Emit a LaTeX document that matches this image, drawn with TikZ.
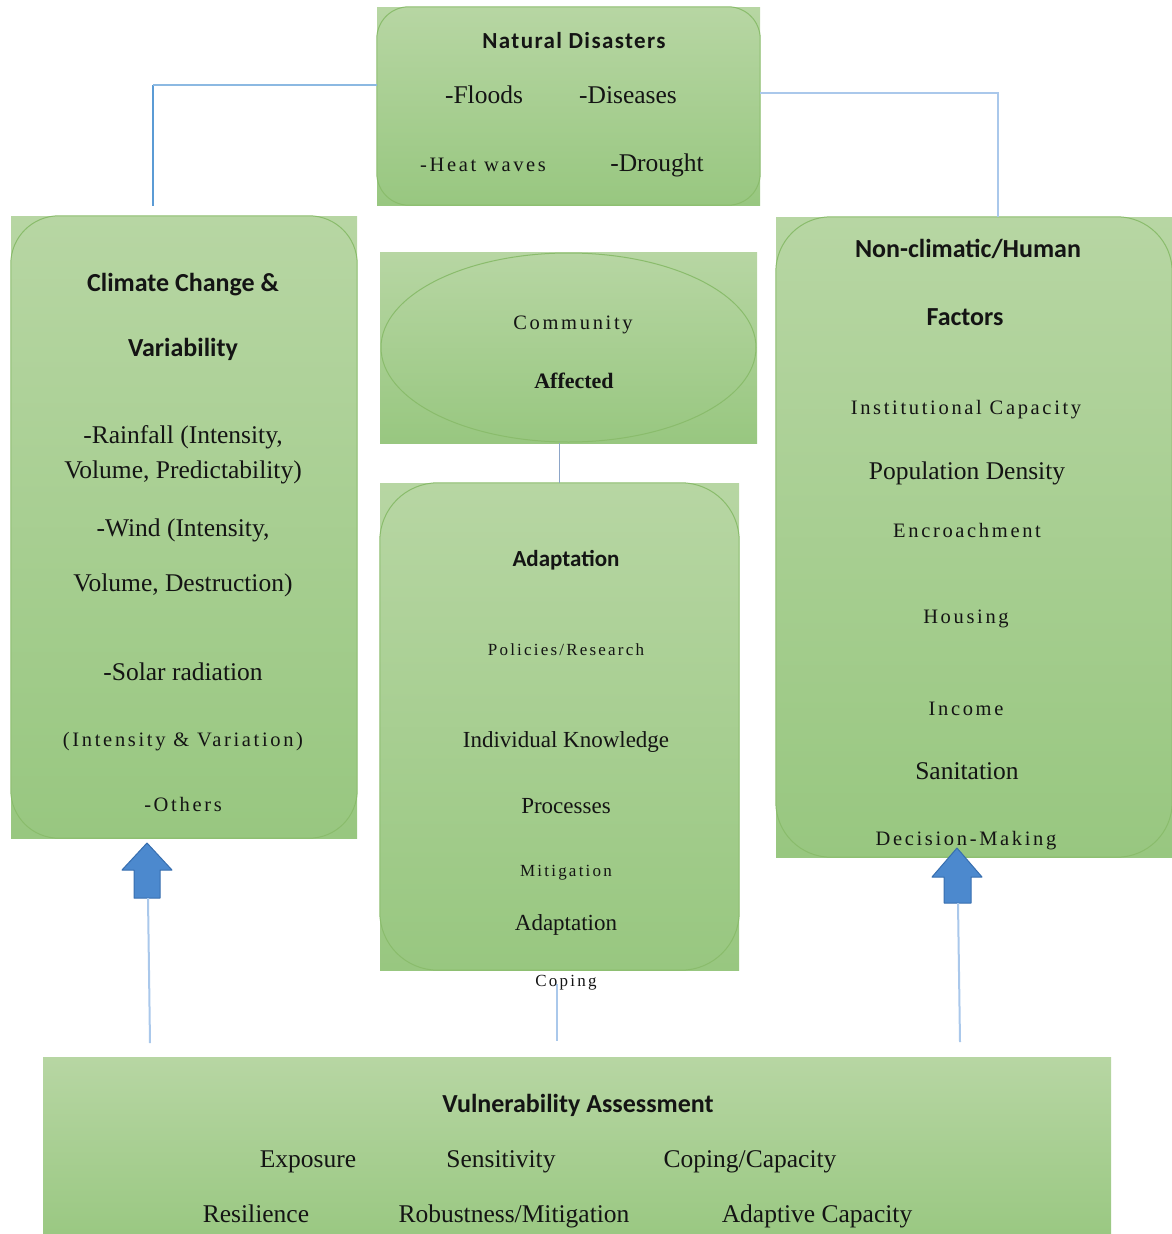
\documentclass[tikz,border=0pt]{standalone}
\usepackage{fontspec}
\setmainfont{Liberation Serif}
\newfontfamily\hdfont{Carlito}
\newfontfamily\hdspaced[LetterSpace=6]{Carlito}
\newfontfamily\spaced[LetterSpace=13]{Liberation Serif}
\usetikzlibrary{shapes.geometric}
\definecolor{gtop}{RGB}{183,214,163}
\definecolor{gbot}{RGB}{152,199,128}
\definecolor{edge}{RGB}{138,188,108}
\definecolor{linkblue}{RGB}{91,155,213}
\definecolor{linklight}{RGB}{170,200,235}
\definecolor{linkgray}{RGB}{140,165,200}
\definecolor{arrowblue}{RGB}{76,137,206}
\definecolor{arrowedge}{RGB}{55,110,175}
\definecolor{ink}{RGB}{20,20,20}
\newcommand\fsz[1]{\fontsize{#1}{#1}\selectfont}
\tikzset{
  box/.style={rectangle, inner sep=0pt, top color=gtop, bottom color=gbot, draw=none},
  rnd/.style={draw=edge, line width=1pt},
  conn/.style={draw=linkblue, line width=2pt},
  connlt/.style={draw=linklight, line width=2pt},
  conngr/.style={draw=linkgray, line width=1.2pt},
  blk/.style={fill=arrowblue, draw=arrowedge, line width=1pt, line join=round},
  tx/.style={inner sep=0pt, anchor=center, text=ink, yshift=-6pt, text height=0.7em, text depth=0.22em},
  body/.style={tx, font=\fsz{25.5}},
  bodym/.style={tx, font=\fsz{23}},
  sp/.style={tx, font=\spaced\fsz{20.5}},
  sps/.style={tx, font=\spaced\fsz{17}},
  hd/.style={tx, font=\hdfont\bfseries\fsz{26}},
}
\begin{document}
\begin{tikzpicture}[x=1pt,y=-1pt]
\useasboundingbox (0,0) rectangle (1171,1234);

% boxes
\node[box, minimum width=383pt, minimum height=198pt] (nd) at (568.5,106) {};
\draw[rnd, rounded corners=32pt] (nd.south west) rectangle (nd.north east);

\node[box, minimum width=346pt, minimum height=622pt] (cc) at (184,527) {};
\draw[rnd, rounded corners=48pt] (cc.south west) rectangle (cc.north east);

\node[box, minimum width=377pt, minimum height=191pt] (ca) at (568.5,347.5) {};
\node[ellipse, draw=edge, line width=1pt, minimum width=375pt, minimum height=189pt] (cae) at (ca.center) {};

\node[box, minimum width=359pt, minimum height=487pt] (ad) at (559.5,726.5) {};
\draw[rnd, rounded corners=58pt] (ad.south west) rectangle (ad.north east);

\node[box, minimum width=396pt, minimum height=640pt] (nf) at (974,537) {};
\draw[rnd, rounded corners=55pt] (nf.south west) rectangle (nf.north east);

\node[box, minimum width=1068pt, minimum height=190pt] (va) at (577,1152) {};

% connectors
\coordinate (lcb) at ([xshift=-31pt,yshift=10pt]cc.north);
\coordinate (lcr) at ([yshift=21pt]nd.west);
\draw[conn] (lcb) -- (lcb |- lcr);
\draw[conn, draw=linkblue!70] (lcb |- lcr) -- (lcr);
\draw[connlt] ([yshift=13pt]nd.east) -| ([xshift=24pt]nf.north);
\draw[conngr] (ca.south -| ad.north) -- (ad.north);
\coordinate (cop1) at (557,984);
\coordinate (cop2) at (557,1041);
\draw[connlt] (cop1) -- (cop2);

% block arrows
\coordinate (la) at (148,898);
\coordinate (lb) at (150,1043);
\draw[blk] (147,843) -- (172,870) -- (160,870) -- (160,898) -- (134,898) -- (134,870) -- (122,870) -- cycle;
\draw[connlt] (la) -- (lb);
\coordinate (ra) at (958,903);
\coordinate (rb) at (960,1042);
\draw[blk] (957,848) -- (982,877) -- (971,877) -- (971,903) -- (944,903) -- (944,877) -- (932,877) -- cycle;
\draw[connlt] (ra) -- (rb);

% Natural disasters
\node[tx, font=\hdspaced\bfseries\fsz{23}] (nd0) at (574,40) {Natural Disasters};
\node[body] (nd1) at (484,95) {-Floods};
\node[body] (nd2) at (628,95) {-Diseases};
\node[sp] (nd3) at (483,163) {-Heat waves};
\node[body] (nd4) at (657,163) {-Drought};

% Climate change
\node[hd] (cc0) at (183,283) {Climate Change \&};
\node[hd] (cc1) at (183,348) {Variability};
\node[body] (cc2) at (183,435) {-Rainfall (Intensity,};
\node[body] (cc3) at (183,470) {Volume, Predictability)};
\node[body] (cc4) at (183,528) {-Wind (Intensity,};
\node[body] (cc5) at (183,583) {Volume, Destruction)};
\node[body] (cc6) at (183,672) {-Solar radiation};
\node[sp] (cc7) at (183,738) {(Intensity \& Variation)};
\node[sp] (cc8) at (183,803) {-Others};

% Community affected
\node[sp] (ca0) at (573,321) {Community};
\node[tx, font=\bfseries\fsz{22}] (ca1) at (574,380) {Affected};

% Adaptation
\node[tx, font=\hdfont\bfseries\fsz{23}] (ad0) at (566,558) {Adaptation};
\node[sps] (ad1) at (566,647) {Policies/Research};
\node[bodym] (ad2) at (566,739) {Individual Knowledge};
\node[bodym] (ad3) at (566,805) {Processes};
\node[sps] (ad4) at (566,868) {Mitigation};
\node[bodym] (ad5) at (566,922) {Adaptation};
\node[sps] (ad6) at (566,978) {Coping};

% Non-climatic
\node[hd] (nf0) at (968,249) {Non-climatic/Human};
\node[hd] (nf1) at (965,317) {Factors};
\node[sp] (nf2) at (966,406) {Institutional Capacity};
\node[body] (nf3) at (967,471) {Population Density};
\node[sp] (nf4) at (967,529) {Encroachment};
\node[sp] (nf5) at (966,615) {Housing};
\node[sp] (nf6) at (966,707) {Income};
\node[body] (nf7) at (967,771) {Sanitation};
\node[sp] (nf8) at (966,837) {Decision-Making};

% Vulnerability
\node[hd] (va0) at (578,1104) {Vulnerability Assessment};
\node[body] (va1) at (308,1159) {Exposure};
\node[body] (va2) at (501,1159) {Sensitivity};
\node[body] (va3) at (750,1159) {Coping/Capacity};
\node[body] (va4) at (256,1214) {Resilience};
\node[body] (va5) at (514,1214) {Robustness/Mitigation};
\node[body] (va6) at (817,1214) {Adaptive Capacity};
\end{tikzpicture}
\end{document}
